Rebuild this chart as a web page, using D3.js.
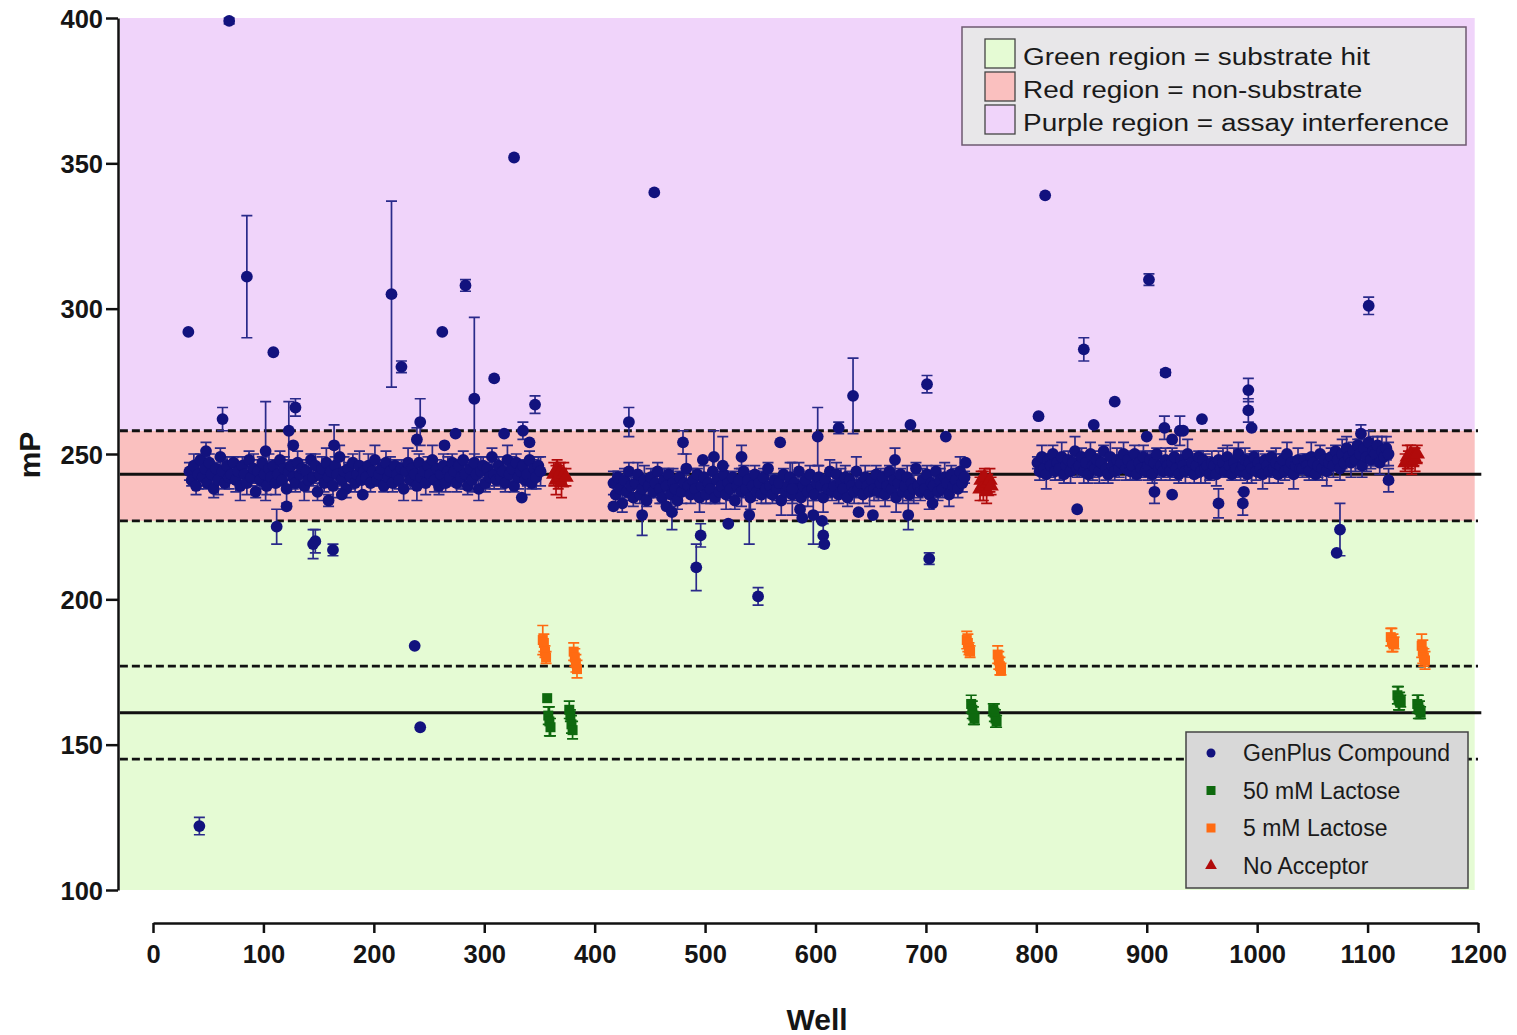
<!DOCTYPE html>
<html><head><meta charset="utf-8">
<script src="https://cdn.jsdelivr.net/npm/d3@7"></script>
<style>
body{margin:0;background:#fff}
svg{display:block}
text{font-family:Arial,"Liberation Sans",sans-serif}
</style>
</head><body>
<svg id="c" width="1517" height="1035"></svg>
<script>
// ---------- DATA ----------
const xTicks = [0,100,200,300,400,500,600,700,800,900,1000,1100,1200];
const yTicks = [100,150,200,250,300,350,400];
const regionLabels = ["Green region = substrate hit","Red region = non-substrate","Purple region = assay interference"];
const regionBounds = [[100,227],[227,258],[258,400]];
const meanLines = [243,161];
const sdLines = [258,227,177,145];
const seriesNames = ["GenPlus Compound","50 mM Lactose","5 mM Lactose","No Acceptor"];

// plate layout: compound wells 33..351 step 2, plates offset by 384 wells
const plateOffsets = [0,384,768];
const bandStartWell = 33, bandStep = 2;

const plate1Band = [
244,241,246,239,243,248,242,245,240,247,243,238,245,241,249,244,240,246,242,243,
247,241,244,239,246,243,240,248,242,245,237,244,241,247,243,239,245,242,246,240,
243,248,241,245,238,244,246,242,240,247,243,245,239,244,241,248,242,246,237,243,
245,240,247,242,244,239,246,243,249,241,244,238,245,242,247,240,243,246,241,244,
242,246,240,244,248,241,243,245,239,247,242,244,240,246,243,241,245,238,244,247,
241,245,243,239,247,242,244,240,246,243,248,241,245,239,243,246,240,244,242,247,
244,240,246,242,248,243,239,245,241,247,243,238,244,246,240,245,242,249,243,241,
246,242,244,240,248,243,245,239,247,242,244,246,241,243,248,240,245,242,246,244];
const plate2Band = [
240,236,242,238,233,241,237,244,239,235,240,243,236,238,241,234,239,242,237,240,
244,238,235,241,239,243,236,240,238,234,242,237,240,245,239,236,241,238,243,235,
239,242,236,240,238,244,235,241,237,239,243,236,240,238,242,234,239,241,237,244,
238,241,235,239,243,237,240,236,242,238,245,239,236,241,238,240,234,243,237,239,
242,236,240,238,244,235,239,241,237,243,238,236,240,242,239,235,241,238,244,237,
239,243,236,240,238,242,235,241,239,237,244,238,240,236,242,239,237,241,238,243,
237,240,242,236,239,244,238,241,235,240,243,237,239,242,236,240,238,245,239,237,
241,238,243,236,240,239,244,237,241,238,242,240,236,243,239,241,238,244,240,242];
const plate3Band = [
247,244,249,245,243,248,246,250,244,247,245,249,243,246,248,244,247,251,245,246,
249,244,247,243,250,246,245,248,244,247,251,245,243,249,246,244,248,245,247,250,
245,248,244,246,250,243,247,245,249,244,246,248,243,247,250,245,246,244,248,246,
244,247,249,245,243,248,246,244,250,245,247,243,246,249,244,248,245,246,243,247,
246,243,248,245,247,244,249,246,243,247,245,250,244,246,248,243,247,245,249,244,
247,245,243,248,246,244,249,245,247,243,246,248,244,250,245,247,243,246,248,245,
245,248,246,244,249,247,243,246,250,245,248,244,247,249,246,251,248,245,250,247,
252,249,247,251,248,253,250,246,252,249,254,248,251,250,253,247,251,249,252,250];

const plate1BandErr = [
3,2,4,3,5,2,3,4,2,3,4,3,2,5,3,4,2,3,4,3,
2,4,3,5,3,2,4,3,3,5,2,4,3,2,4,3,5,3,2,4,
3,3,2,4,5,3,2,4,3,4,2,3,5,3,4,2,3,4,3,2,
4,3,5,2,3,4,3,2,4,3,5,3,2,4,3,3,2,5,4,3,
2,4,3,3,5,2,4,3,2,4,3,5,3,2,4,3,3,4,2,5,
3,2,4,5,3,3,2,4,3,2,5,4,3,3,2,4,3,5,2,3,
4,3,2,4,3,5,3,2,4,3,2,4,5,3,3,2,4,3,5,2,
3,4,2,3,5,3,4,2,3,4,3,2,5,4,3,2,3,4,3,5];
const plate2BandErr = [
4,3,2,5,3,4,2,3,5,3,2,4,3,3,5,2,4,3,2,4,
3,5,2,4,3,2,4,5,3,3,2,4,3,5,2,3,4,3,2,5,
2,4,3,3,5,4,2,3,4,2,3,5,3,4,2,3,3,4,5,2,
3,2,4,5,3,2,4,3,3,5,2,4,3,2,4,3,5,2,3,4,
5,3,2,4,3,3,4,2,5,3,4,2,3,4,3,5,2,3,4,3,
2,4,3,5,2,4,3,3,2,4,5,3,2,3,4,2,5,3,4,3,
3,5,2,4,3,2,4,3,5,3,2,4,3,4,2,3,5,2,4,3,
4,2,3,5,3,4,2,3,4,3,5,2,4,3,2,4,3,5,3,2];
const plate3BandErr = [
2,3,4,3,5,2,4,3,3,2,4,5,3,2,3,4,2,5,3,4,
3,4,2,3,4,5,3,2,4,3,2,4,3,5,2,3,4,3,2,4,
4,2,3,5,3,2,4,3,4,2,5,3,3,4,2,3,5,2,4,3,
3,5,2,4,3,3,2,4,5,3,2,3,4,2,4,3,5,3,2,4,
2,4,3,3,5,2,4,3,2,5,3,4,3,2,4,3,3,5,2,3,
4,3,5,2,3,4,2,3,5,3,4,2,3,4,3,2,5,3,4,2,
3,2,4,3,5,3,2,4,3,4,2,5,3,3,4,2,3,4,5,3,
4,3,5,3,4,2,5,4,3,5,4,3,5,4,3,4,5,3,4,4];

// outliers: [well, mP, error]
const plate1Outliers = [
[32,292,0],[42,122,3],[48,251,3],[63,262,4],[69,399,1],[85,311,21],[102,251,17],[109,285,0],
[112,225,6],[121,232,0],[123,258,10],[127,253,0],[129,266,3],[145,219,5],[147,220,4],[159,234,2],
[163,217,2],[164,253,7],[171,236,0],[190,236,0],[216,305,32],[225,280,2],[237,184,0],[239,255,4],
[242,261,8],[242,156,0],[262,292,0],[264,253,0],[274,257,0],[283,308,2],[291,269,28],[309,276,0],
[318,257,0],[327,352,0],[334,235,0],[335,258,3],[341,254,0],[346,267,3]];
const plate2Outliers = [
[417,232,0],[431,261,5],[443,229,7],[454,340,0],[465,232,0],[470,230,6],[480,254,4],[492,211,8],
[496,222,4],[498,248,0],[508,249,9],[516,246,10],[521,226,0],[533,249,4],[540,229,10],[548,201,3],
[568,254,0],[579,238,9],[586,231,0],[588,228,0],[598,229,10],[602,256,10],[606,227,0],[607,222,4],
[608,219,0],[621,259,2],[634,270,13],[639,230,0],[652,229,0],[672,248,4],[684,229,5],[686,260,0],
[701,274,3],[703,214,2],[706,233,0],[718,256,0],[736,247,0]];
const plate3Outliers = [
[802,263,0],[808,339,0],[837,231,0],[843,286,4],[852,260,0],[871,268,0],[900,256,0],[902,310,2],
[907,237,4],[916,259,4],[917,278,1],[923,255,0],[923,236,0],[930,258,5],[933,258,0],[950,262,0],
[965,233,5],[987,233,4],[988,237,0],[992,272,4],[992,265,4],[995,259,0],[1072,216,0],[1075,224,9],
[1094,257,3],[1101,301,3],[1119,241,4]];

const lactose50 = [
[357,166,0],[358,160,3],[359,158,5],[360,156,3],[377,162,3],[378,160,2],[379,157,3],[380,155,3],
[741,164,3],[742,162,3],[743,160,3],[744,159,2],[761,162,2],[762,161,3],[763,159,3],[764,158,2],
[1127,167,3],[1128,166,4],[1129,165,3],[1130,165,2],[1145,164,3],[1146,163,4],[1147,162,3],[1148,161,2]];
const lactose5 = [
[353,186,5],[354,185,3],[355,182,2],[356,180,2],[381,182,3],[382,180,3],[383,178,3],[384,176,3],
[737,186,3],[738,185,3],[739,183,2],[740,182,2],[765,181,3],[766,179,3],[767,177,3],[768,176,2],
[1121,187,3],[1122,186,4],[1123,185,3],[1124,185,2],[1149,184,4],[1150,182,4],[1151,180,3],[1152,179,3]];
const noAcceptor = [
[363,243,4],[365,241,5],[366,245,3],[367,242,4],[369,244,3],[370,240,5],[372,243,4],[374,242,3],
[749,238,4],[750,241,3],[752,239,5],[753,242,3],[755,237,4],[756,240,3],[758,241,4],[759,239,3],
[1134,247,3],[1136,249,4],[1137,248,3],[1139,250,3],[1140,247,4],[1142,249,3],[1143,248,4],[1145,250,3]];

// ---------- BUILD ----------
const bands = [plate1Band, plate2Band, plate3Band];
const bandErrs = [plate1BandErr, plate2BandErr, plate3BandErr];
const compound = [];
bands.forEach((b,p)=>b.forEach((v,i)=>compound.push([plateOffsets[p]+bandStartWell+i*bandStep, v, bandErrs[p][i]])));
plate1Outliers.concat(plate2Outliers, plate3Outliers).forEach(d=>compound.push(d));

const svg = d3.select("#c");
const x = d3.scaleLinear().domain([0,1200]).range([153,1478]);
const y = d3.scaleLinear().domain([100,400]).range([890,18]);
const plotLeft = x(-30), plotRight = x(1197);
const FONT = "Arial, 'Liberation Sans', sans-serif";

const regionColors = ["#e5fbd4","#fac0bf","#f0d4fa"];
svg.append("g").selectAll("rect").data(regionBounds).join("rect")
  .attr("x", plotLeft).attr("width", plotRight-plotLeft)
  .attr("y", d=>y(d[1])).attr("height", d=>y(d[0])-y(d[1]))
  .attr("fill",(d,i)=>regionColors[i]);

svg.append("g").selectAll("line").data(sdLines).join("line")
  .attr("x1", plotLeft).attr("x2", x(1200)).attr("y1", d=>y(d)).attr("y2", d=>y(d))
  .attr("stroke","#111").attr("stroke-width",2.8).attr("stroke-dasharray","8,4");
svg.append("g").selectAll("line").data(meanLines).join("line")
  .attr("x1", plotLeft).attr("x2", x(1203)).attr("y1", d=>y(d)).attr("y2", d=>y(d))
  .attr("stroke","#111").attr("stroke-width",3);

function errorBars(data, color){
  const g = svg.append("g").attr("stroke",color).attr("stroke-width",1.7).attr("fill","none");
  const e = data.filter(d=>d[2]>0);
  g.selectAll("path").data(e).join("path").attr("d", d=>{
    const cx=x(d[0]), t=y(d[1]+d[2]), b=y(d[1]-d[2]);
    return `M${cx},${t}V${b}M${cx-5.5},${t}H${cx+5.5}M${cx-5.5},${b}H${cx+5.5}`;
  });
}
const cBlue="#12127e", cGreen="#0e690e", cOrange="#ff6b12", cRed="#b10b0b";

errorBars(compound, "#2a2a8a");
svg.append("g").selectAll("circle").data(compound).join("circle")
  .attr("cx",d=>x(d[0])).attr("cy",d=>y(d[1])).attr("r",5.9).attr("fill",cBlue);

errorBars(lactose5, cOrange);
svg.append("g").selectAll("rect").data(lactose5).join("rect")
  .attr("x",d=>x(d[0])-5).attr("y",d=>y(d[1])-5).attr("width",10).attr("height",10).attr("fill",cOrange);
errorBars(lactose50, cGreen);
svg.append("g").selectAll("rect").data(lactose50).join("rect")
  .attr("x",d=>x(d[0])-5).attr("y",d=>y(d[1])-5).attr("width",10).attr("height",10).attr("fill",cGreen);
errorBars(noAcceptor, cRed);
const tri = d3.symbol().type(d3.symbolTriangle).size(105);
svg.append("g").selectAll("path").data(noAcceptor).join("path")
  .attr("transform",d=>`translate(${x(d[0])},${y(d[1])})`).attr("d",tri).attr("fill",cRed);

// axes
const yAxis = svg.append("g").attr("transform","translate(118,0)")
  .call(d3.axisLeft(y).tickValues(yTicks).tickSize(12).tickSizeOuter(0).tickPadding(3));
const xAxis = svg.append("g").attr("transform","translate(0,923)")
  .call(d3.axisBottom(x).tickValues(xTicks).tickFormat(d3.format("d")).tickSize(10).tickSizeOuter(0).tickPadding(12));
[yAxis,xAxis].forEach(a=>{
  a.selectAll("path,line").attr("stroke","#111").attr("stroke-width",2.5);
  a.selectAll("text").attr("font-size",25.5).attr("font-weight","bold").attr("fill","#151515")
   .attr("font-family",FONT);
});
yAxis.selectAll("text").attr("dy","0.36em");
xAxis.selectAll("text").attr("dy","0.71em");

svg.append("text").attr("transform","translate(40,455) rotate(-90)").attr("text-anchor","middle")
  .attr("font-size",30).attr("font-weight","bold").attr("fill","#151515").text("mP");
svg.append("text").attr("x",817).attr("y",1030).attr("text-anchor","middle")
  .attr("font-size",30).attr("font-weight","bold").attr("fill","#151515").text("Well");

// region legend
const lg1 = svg.append("g").attr("transform","translate(962,27)");
lg1.append("rect").attr("width",504).attr("height",118).attr("fill","#e8e7e9").attr("stroke","#6e5a70").attr("stroke-width",1.5);
regionLabels.forEach((lab,i)=>{
  lg1.append("rect").attr("x",23).attr("y",12+i*33).attr("width",30).attr("height",29)
    .attr("fill",regionColors[i]).attr("stroke","#444").attr("stroke-width",1.3);
  lg1.append("g").attr("transform",`translate(61,${29+i*33}) scale(1.14,1)`)
    .append("text").attr("dy","0.35em").attr("font-size",24.5)
    .attr("fill","#1a1a1a").text(lab);
});

// series legend
const lg2 = svg.append("g").attr("transform","translate(1186,732)");
lg2.append("rect").attr("width",282).attr("height",156).attr("fill","#d8d8d8").attr("stroke","#444").attr("stroke-width",1.5);
const legColors=[cBlue,cGreen,cOrange,cRed];
seriesNames.forEach((n,i)=>{
  const cy = 21+i*37.5;
  const g = lg2.append("g").attr("transform",`translate(25,${cy})`);
  if(i===0) g.append("circle").attr("r",4.5).attr("fill",legColors[i]);
  else if(i<3) g.append("rect").attr("x",-4.5).attr("y",-4.5).attr("width",9).attr("height",9).attr("fill",legColors[i]);
  else g.append("path").attr("d",d3.symbol().type(d3.symbolTriangle).size(60)).attr("fill",legColors[i]);
  lg2.append("text").attr("x",57).attr("y",cy).attr("dy","0.35em").attr("font-size",23)
    .attr("fill","#1a1a1a").text(n);
});
</script>
</body></html>
